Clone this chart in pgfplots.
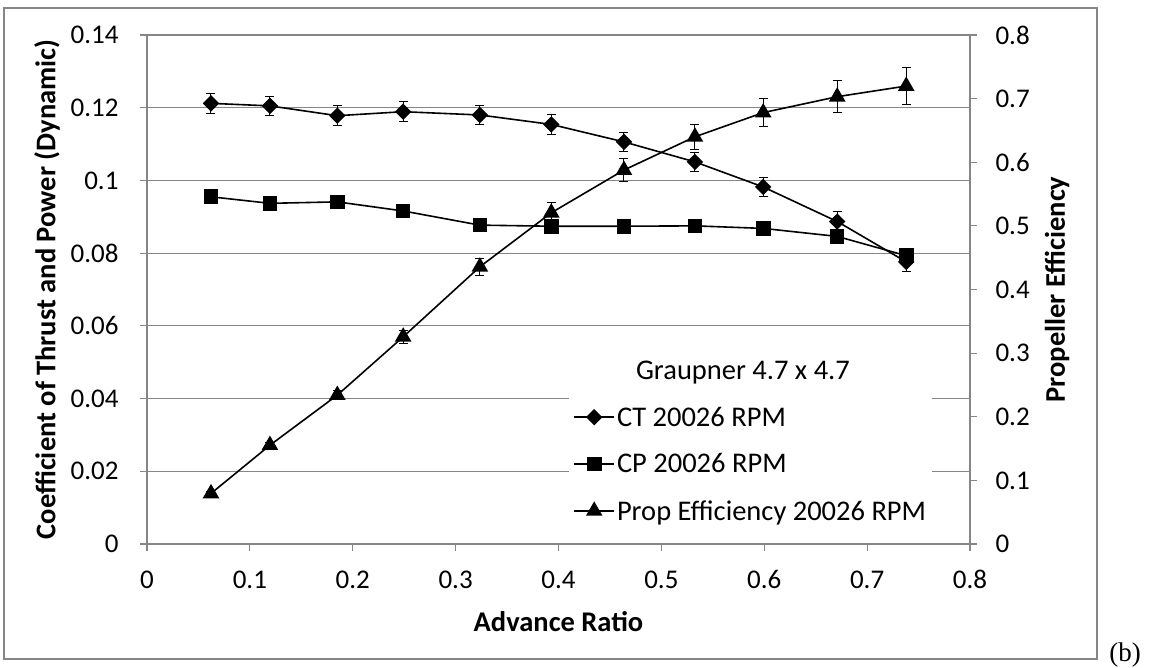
\documentclass[border=0pt]{standalone}
\usepackage{fontspec}
\setmainfont{Carlito}
\newfontfamily\timesf{Liberation Serif}
\usepackage{pgfplots}
\usepackage{pgfplotstable}
\pgfplotsset{compat=1.18}
\definecolor{axgray}{RGB}{134,134,134}

\pgfplotstableread{
x       ct      ect     cp      eff     eeff
0.0622  0.1212  0.0027  0.0955  0.0794  0.003
0.1195  0.1205  0.0027  0.0937  0.1553  0.005
0.1850  0.1178  0.0027  0.0941  0.2340  0.007
0.2490  0.1189  0.0027  0.0916  0.3256  0.010
0.3236  0.1180  0.0027  0.0877  0.4357  0.013
0.3930  0.1154  0.0027  0.0874  0.5206  0.016
0.4636  0.1106  0.0027  0.0874  0.5877  0.018
0.5326  0.1051  0.0027  0.0875  0.6400  0.020
0.5990  0.0982  0.0027  0.0868  0.6780  0.022
0.6709  0.0887  0.0027  0.0846  0.7030  0.025
0.7380  0.0776  0.0027  0.0793  0.7198  0.0285
}\datatable

\begin{document}
\begin{tikzpicture}[x=1pt,y=1pt]
\useasboundingbox (0,0) rectangle (1150,668);
\draw[axgray, line width=1.3pt] (4,9) rectangle (1097,660);
\node[font=\timesf\fontsize{27}{32}\selectfont, anchor=base, inner sep=0pt] at (1125,6) {(b)};

\pgfplotsset{
  common/.style={
    at={(147pt,124pt)}, anchor=south west,
    width=823pt, height=509pt, scale only axis,
    xmin=0, xmax=0.8,
    axis line style={axgray, line width=1.2pt},
    tick style={axgray, line width=1.2pt},
    tick align=outside, major tick length=7pt,
    ticklabel style={font=\fontsize{27}{32}\selectfont},
    clip=false,
  },
}

\begin{axis}[common,
  axis x line*=bottom, axis y line*=left,
  xtick={0,0.1,0.2,0.3,0.4,0.5,0.6,0.7,0.8},
  xticklabels={0,0.1,0.2,0.3,0.4,0.5,0.6,0.7,0.8},
  xticklabel style={yshift=-16pt},
  ymin=0, ymax=0.14,
  ytick={0,0.02,0.04,0.06,0.08,0.1,0.12,0.14},
  yticklabels={0,0.02,0.04,0.06,0.08,0.1,0.12,0.14},
  yticklabel style={xshift=-18pt},
  ymajorgrids, grid style={axgray, line width=1.2pt},
  every axis x label/.style={at={(axis description cs:0.5,-0.153)}, anchor=center,
    font=\bfseries\fontsize{28.5}{34}\selectfont},
  every axis y label/.style={at={(axis description cs:-0.1215,0.5)}, rotate=90, anchor=center,
    font=\bfseries\fontsize{28.5}{34}\selectfont},
  xlabel={Advance Ratio},
  ylabel={Coefficient of Thrust and Power (Dynamic)},
]
\addplot[black, line width=1.6pt, mark=square*, mark size=5pt,
  mark options={rotate=45, solid},
  error bars/.cd, y dir=both, y explicit,
  error bar style={line width=1pt, black},
  error mark options={rotate=90, mark size=4.5pt, line width=1pt, black}]
  table[x=x, y=ct, y error=ect] {\datatable};
\addplot[black, line width=1.6pt, mark=square*, mark size=6.5pt, mark options={solid}]
  table[x=x, y=cp] {\datatable};
\end{axis}

\begin{axis}[common,
  axis x line=none, axis y line*=right,
  ymin=0, ymax=0.8,
  ytick={0,0.1,0.2,0.3,0.4,0.5,0.6,0.7,0.8},
  yticklabels={0,0.1,0.2,0.3,0.4,0.5,0.6,0.7,0.8},
  yticklabel style={xshift=15pt},
  every axis y label/.style={at={(axis description cs:1.1057,0.5)}, rotate=90, anchor=center,
    font=\bfseries\fontsize{28.5}{34}\selectfont},
  ylabel={Propeller Efficiency},
  legend style={at={(axis description cs:0.513,0.028)}, anchor=south west,
    draw=none, fill=white, font=\fontsize{28.5}{34}\selectfont,
    row sep=22pt, inner xsep=4pt, inner ysep=6pt,
    cells={anchor=west}},
  legend image code/.code={%
    \draw[mark repeat=2, mark phase=2] plot coordinates {(0pt,0pt) (20pt,0pt) (40pt,0pt)};},
  legend cell align=left,
]
\addlegendimage{empty legend}
\addlegendentry{\hspace*{19pt}Graupner 4.7 x 4.7}
\addlegendimage{black, line width=1.6pt, mark=square*, mark size=5pt, mark options={rotate=45, solid}}
\addlegendentry{CT 20026 RPM}
\addlegendimage{black, line width=1.6pt, mark=square*, mark size=6.5pt, mark options={solid}}
\addlegendentry{CP 20026 RPM}
\addlegendimage{black, line width=1.6pt, mark=triangle*, mark size=8pt, mark options={solid}}
\addlegendentry{Prop Efficiency 20026 RPM}
\addplot[black, line width=1.6pt, mark=triangle*, mark size=8pt, mark options={solid}, forget plot,
  error bars/.cd, y dir=both, y explicit,
  error bar style={line width=1pt, black},
  error mark options={rotate=90, mark size=4.5pt, line width=1pt, black}]
  table[x=x, y=eff, y error=eeff] {\datatable};
\end{axis}
\end{tikzpicture}
\end{document}
